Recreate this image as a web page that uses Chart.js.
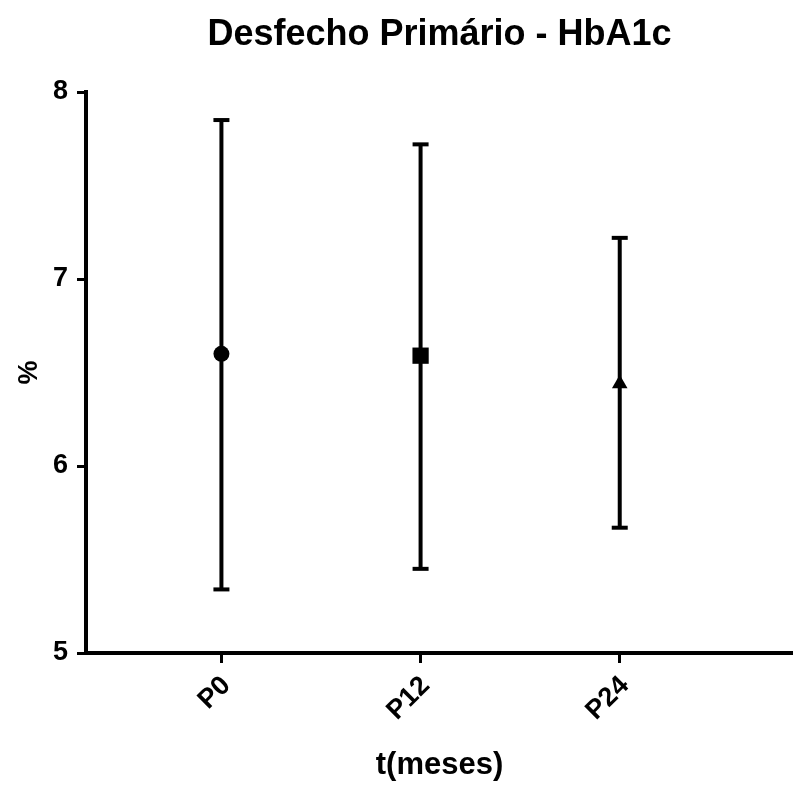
<!DOCTYPE html>
<html>
<head>
<meta charset="utf-8">
<script src="https://cdn.jsdelivr.net/npm/chart.js@4/dist/chart.umd.min.js"></script>
<style>
body { margin: 0; background: #fff; }
#grafico { display: block; }
</style>
</head>
<body>
<canvas id="grafico" width="793" height="785"></canvas>
<script>
// ==============================
// DATOS
// ==============================

const categorias = ["P0", "P12", "P24"];
const medias = [6.60, 6.59, 6.44];
const limiteInferior = [5.34, 5.45, 5.67];
const limiteSuperior = [7.85, 7.72, 7.22];
const ticksY = [5, 6, 7, 8];

const negro = "#000";
const fuente = "'Liberation Sans', Arial, sans-serif";

// ==============================
// DATASETS
// ==============================

// marcadores primero para que queden encima
let datasets = [{
  label: "media",
  data: medias.map((m, i) => ({ x: i, y: m })),
  pointStyle: ["circle", "rect", "triangle"],
  pointRadius: [8, 11.5, 9],
  pointBackgroundColor: negro,
  pointBorderWidth: 0,
  showLine: false
}];

// barras de error, una por categoria
categorias.forEach((c, i) => {
  datasets.push({
    label: c,
    data: [{ x: i, y: limiteInferior[i] }, { x: i, y: limiteSuperior[i] }],
    showLine: true,
    borderColor: negro,
    borderWidth: 4,
    pointStyle: "line",
    pointRadius: 8,
    pointBorderColor: negro,
    pointBorderWidth: 4
  });
});

// ==============================
// GRAFICO
// ==============================

const ctx = document.getElementById("grafico").getContext("2d");

let grafico = new Chart(ctx, {

type: "scatter",

data: { datasets: datasets },

options: {
  responsive: false,
  animation: false,
  layout: { padding: 0, autoPadding: false },

  plugins: {
    legend: { display: false },
    tooltip: { enabled: false },
    title: {
      display: true,
      text: "Desfecho Primário - HbA1c",
      color: negro,
      fullSize: false,
      font: { family: fuente, size: 36, weight: "bold" },
      padding: { top: 13, bottom: 35.8 }
    }
  },

  scales: {
    x: {
      type: "linear",
      position: "bottom",
      min: -0.68,
      max: 2.87,
      afterBuildTicks: s => { s.ticks = categorias.map((c, i) => ({ value: i })); },
      afterFit: s => { s.height = 132; s.paddingLeft = 0; s.paddingRight = 0; },
      grid: { drawOnChartArea: false, tickLength: 10, tickWidth: 3, tickColor: negro },
      border: { color: negro, width: 4 },
      ticks: {
        color: negro,
        minRotation: 45,
        maxRotation: 45,
        padding: 7,
        labelOffset: 5,
        font: { family: fuente, size: 27, weight: "bold" },
        callback: v => categorias[v]
      },
      title: {
        display: true,
        text: "t(meses)",
        color: negro,
        font: { family: fuente, size: 31, weight: "bold" },
        padding: { top: 0, bottom: 1.4 }
      }
    },
    y: {
      min: 5,
      max: 8,
      afterBuildTicks: s => { s.ticks = ticksY.map(v => ({ value: v })); },
      afterFit: s => { s.width = 86; },
      grid: { drawOnChartArea: false, tickLength: 9, tickWidth: 3, tickColor: negro },
      border: { color: negro, width: 4 },
      ticks: {
        color: negro,
        padding: 9,
        font: { family: fuente, size: 27, weight: "bold" }
      },
      title: {
        display: true,
        text: "%",
        color: negro,
        font: { family: fuente, size: 27, weight: "bold" },
        padding: { top: 13, bottom: 0 }
      }
    }
  }
}

});
</script>
</body>
</html>
